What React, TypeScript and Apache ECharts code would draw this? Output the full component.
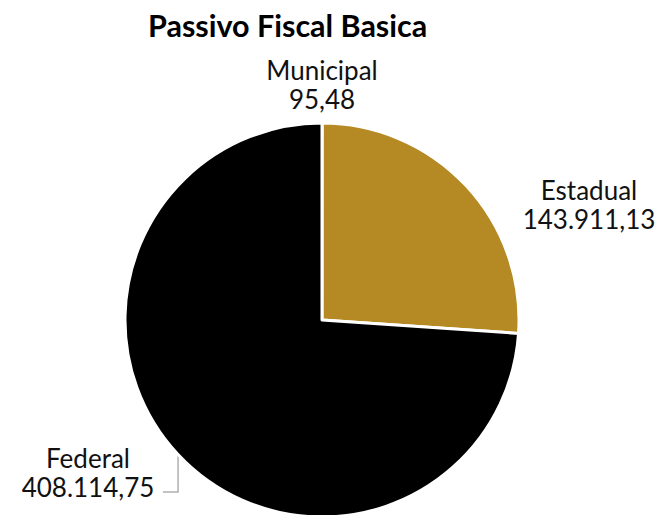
import React, { useEffect, useRef } from "react";
import * as echarts from "echarts";

const categories = ["Municipal", "Estadual", "Federal"];
const values = [95.48, 143911.13, 408114.75];
const colors = ["#7a7a7a", "#B58923", "#000000"];
const titleText = "Passivo Fiscal Basica";

function fmtBR(v: number): string {
  const fixed = v.toFixed(2);
  const [intPart, dec] = fixed.split(".");
  const withSep = intPart.replace(/\B(?=(\d{3})+(?!\d))/g, ".");
  return withSep + "," + dec;
}

const labelPos: Record<number, { x: number; y: number }> = {
  0: { x: 322, y: 84 },
  1: { x: 589, y: 204 },
  2: { x: 88, y: 472 },
};

export default function App() {
  const ref = useRef<HTMLDivElement>(null);
  useEffect(() => {
    if (!ref.current) return;
    const chart = echarts.init(ref.current, null, { renderer: "svg" });
    chart.setOption({
      animation: false,
      backgroundColor: "#ffffff",
      title: {
        text: titleText,
        left: 143,
        top: 4,
        textStyle: {
          fontFamily: "Lato",
          fontWeight: "bold",
          fontSize: 30.5,
          color: "#000",
        },
      },
      series: [
        {
          type: "pie",
          center: [322, 320],
          radius: 197,
          startAngle: 90,
          clockwise: true,
          avoidLabelOverlap: false,
          itemStyle: { borderColor: "#ffffff", borderWidth: 3 },
          label: {
            show: true,
            position: "outside",
            fontFamily: "Lato",
            fontSize: 26,
            lineHeight: 29,
            color: "#111",
            align: "center",
            formatter: (p: any) => p.name + "\n" + fmtBR(p.value),
          },
          labelLine: { show: false },
          labelLayout: (params: any) => {
            const pos = labelPos[params.dataIndex];
            const res: any = {
              x: pos.x,
              y: pos.y,
              align: "center",
              verticalAlign: "middle",
            };
            if (params.dataIndex === 2 && params.labelLinePoints) {
              const p0 = params.labelLinePoints[0];
              res.labelLinePoints = [
                [p0[0], p0[1]],
                [p0[0], 492],
                [163, 492],
              ];
            }
            return res;
          },
          data: categories.map((c, i) => ({
            name: c,
            value: values[i],
            itemStyle: { color: colors[i] },
            labelLine:
              i === 2
                ? { show: true, lineStyle: { color: "#b0b0b0", width: 1.5 } }
                : { show: false },
          })),
        },
      ],
    });
    return () => chart.dispose();
  }, []);
  return (
    <div
      ref={ref}
      style={{ position: "fixed", left: 0, top: 0, width: 662, height: 515 }}
    />
  );
}
